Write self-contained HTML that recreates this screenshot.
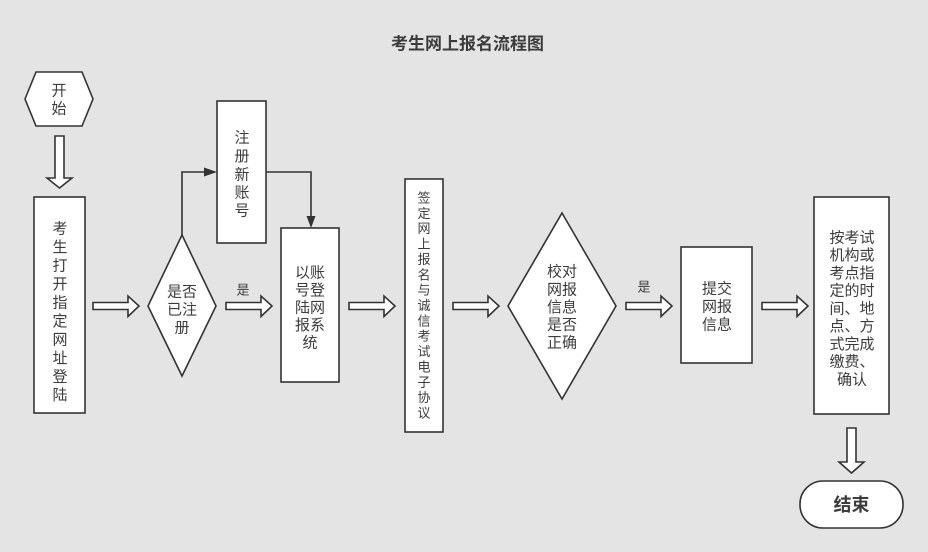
<!DOCTYPE html>
<html><head><meta charset="utf-8"><style>
html,body{margin:0;padding:0;background:#e4e4e4;}
svg{display:block;}
text{font-family:"Liberation Sans","Noto Sans CJK SC",sans-serif;fill:#3c3c3c;}
</style></head><body>
<svg width="928" height="552" viewBox="0 0 928 552" xmlns="http://www.w3.org/2000/svg">
<rect x="0" y="0" width="928" height="552" fill="#e4e4e4"/>
<text x="467.5" y="44" font-size="17" font-weight="bold" text-anchor="middle" dominant-baseline="central" fill="#333">考生网上报名流程图</text>

<g stroke="#333" stroke-width="1.6" fill="#fff">
<polygon points="25,99 36,72 82,72 93,99 82,126 36,126"/>
<polygon points="55,136 64,136 64,178 72,178 59.5,188 47,178 55,178"/>
<rect x="34" y="197" width="51" height="216"/>
<polygon points="93,302.5 128,302.5 128,296 139,306 128,316.5 128,309.5 93,309.5"/>
<polygon points="182,235 216,306 182,376 148,306"/>
<rect x="217" y="101" width="49" height="142"/>
<polygon points="226,302.5 261,302.5 261,296 272,306 261,316.5 261,309.5 226,309.5"/>
<rect x="281" y="228" width="58" height="154"/>
<polygon points="349,302.5 384,302.5 384,296 395,306 384,316.5 384,309.5 349,309.5"/>
<rect x="405" y="179" width="38" height="253"/>
<polygon points="453,302.5 488,302.5 488,296 499,306 488,316.5 488,309.5 453,309.5"/>
<polygon points="562,213 616,306 562,399 508,306"/>
<polygon points="626,302.5 661,302.5 661,296 672,306 661,316.5 661,309.5 626,309.5"/>
<rect x="681" y="247" width="71" height="116"/>
<polygon points="762,302.5 797,302.5 797,296 808,306 797,316.5 797,309.5 762,309.5"/>
<rect x="814" y="197" width="75" height="217"/>
<polygon points="847,428 856,428 856,462 864,462 851.5,473 839,462 847,462"/>
<rect x="800" y="481" width="103" height="47" rx="23" ry="23"/>
</g>

<g stroke="#333" stroke-width="1.6" fill="none">
<polyline points="182,235 182,172 205,172"/>
<polyline points="266,172 311,172 311,217"/>
</g>
<g fill="#333" stroke="none">
<polygon points="204,167.5 217,172 204,176.5"/>
<polygon points="306.5,216 315.5,216 311,228"/>
</g>

<g font-size="15" text-anchor="middle" dominant-baseline="central">
<text x="59" y="91">开</text>
<text x="59" y="109">始</text>

<text x="60" y="229">考</text>
<text x="60" y="247.5">生</text>
<text x="60" y="266">打</text>
<text x="60" y="284.5">开</text>
<text x="60" y="303">指</text>
<text x="60" y="321.5">定</text>
<text x="60" y="340">网</text>
<text x="60" y="358.5">址</text>
<text x="60" y="377">登</text>
<text x="60" y="395.5">陆</text>

<text x="182" y="292">是否</text>
<text x="182" y="310">已注</text>
<text x="182" y="328">册</text>

<text x="242" y="138">注</text>
<text x="242" y="156.5">册</text>
<text x="242" y="175">新</text>
<text x="242" y="193">账</text>
<text x="242" y="211">号</text>

<text x="310" y="273">以账</text>
<text x="310" y="290.5">号登</text>
<text x="310" y="308">陆网</text>
<text x="310" y="325.5">报系</text>
<text x="310" y="343">统</text>

<text x="562" y="272">校对</text>
<text x="562" y="290">网报</text>
<text x="562" y="307.5">信息</text>
<text x="562" y="325">是否</text>
<text x="562" y="343">正确</text>

<text x="717" y="289">提交</text>
<text x="717" y="307">网报</text>
<text x="717" y="325">信息</text>

<text x="852" y="238">按考试</text>
<text x="852" y="255.7">机构或</text>
<text x="852" y="273.5">考点指</text>
<text x="852" y="291.2">定的时</text>
<text x="852" y="309">间、地</text>
<text x="852" y="326.7">点、方</text>
<text x="852" y="344.5">式完成</text>
<text x="852" y="362.2">缴费、</text>
<text x="852" y="380">确认</text>
</g>

<g font-size="13" text-anchor="middle" dominant-baseline="central">
<text x="243" y="290">是</text>
<text x="644" y="287">是</text>
<text x="424" y="198">签</text>
<text x="424" y="213.4">定</text>
<text x="424" y="228.7">网</text>
<text x="424" y="244.1">上</text>
<text x="424" y="259.4">报</text>
<text x="424" y="274.8">名</text>
<text x="424" y="290.1">与</text>
<text x="424" y="305.5">诚</text>
<text x="424" y="320.9">信</text>
<text x="424" y="336.2">考</text>
<text x="424" y="351.6">试</text>
<text x="424" y="366.9">电</text>
<text x="424" y="382.3">子</text>
<text x="424" y="397.6">协</text>
<text x="424" y="413">议</text>
</g>

<text x="851.5" y="505" font-size="18" font-weight="bold" text-anchor="middle" dominant-baseline="central" fill="#333">结束</text>
</svg>
</body></html>
